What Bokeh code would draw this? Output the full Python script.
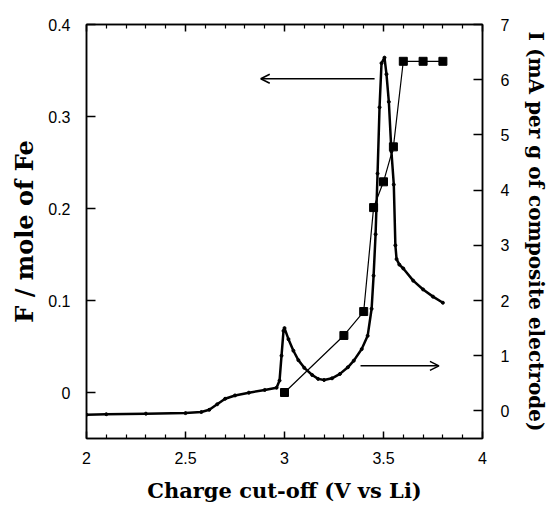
from bokeh.plotting import figure
from bokeh.models import Range1d, LinearAxis, FixedTicker, Arrow, OpenHead
from bokeh.embed import file_html
from bokeh.resources import INLINE

# F / mole of Fe (squares, left axis)
f_x = [3.0, 3.3, 3.4, 3.45, 3.5, 3.55, 3.6, 3.7, 3.8]
f_y = [0.0, 0.062, 0.088, 0.201, 0.229, 0.267, 0.36, 0.36, 0.36]

# current I (mA per g of composite electrode), right axis
i_x = [2.0, 2.1, 2.3, 2.5, 2.58, 2.62, 2.66, 2.70, 2.75, 2.82, 2.90, 2.96,
       2.975, 2.985, 2.995, 3.0, 3.02, 3.045, 3.07, 3.10, 3.14, 3.17, 3.20,
       3.24, 3.28, 3.32, 3.35, 3.39, 3.42, 3.44, 3.45, 3.46, 3.47, 3.48, 3.49,
       3.505, 3.515, 3.527, 3.54, 3.552, 3.56, 3.566, 3.58, 3.60, 3.65, 3.70,
       3.75, 3.80]
i_y = [-0.07, -0.06, -0.05, -0.04, -0.02, 0.02, 0.12, 0.22, 0.28, 0.33, 0.38, 0.42,
       0.55, 1.0, 1.45, 1.5, 1.3, 1.09, 0.92, 0.78, 0.65, 0.58, 0.56,
       0.59, 0.67, 0.79, 0.91, 1.12, 1.36, 1.85, 2.45, 3.2, 4.3, 5.5, 6.3,
       6.4, 6.1, 5.6, 4.7, 4.1, 3.0, 2.75, 2.65, 2.58, 2.36, 2.2,
       2.07, 1.96]

x_ticks = [2, 2.5, 3, 3.5, 4]
x_minor = [2.1, 2.2, 2.3, 2.4, 2.6, 2.7, 2.8, 2.9, 3.1, 3.2, 3.3, 3.4,
           3.6, 3.7, 3.8, 3.9]
f_ticks = [0, 0.1, 0.2, 0.3, 0.4]
i_ticks = [0, 1, 2, 3, 4, 5, 6, 7]

x_title = "Charge cut-off (V vs Li)"
f_title = "F / mole of Fe"
i_title = "I (mA per g of composite electrode)"

TICK_FONT = "Liberation Sans"
LABEL_FONT = "DejaVu Serif"

p = figure(frame_width=396, frame_height=414, output_backend="svg",
           toolbar_location=None, x_range=Range1d(2, 4),
           y_range=Range1d(-0.05, 0.4),
           min_border_left=86, min_border_right=68, min_border_top=24,
           min_border_bottom=68)
p.extra_y_ranges = {"I": Range1d(-0.5, 7.0)}
p.grid.visible = False
p.outline_line_color = "black"
p.outline_line_width = 1.5
p.background_fill_color = "white"
p.border_fill_color = "white"

def style(ax, in_len=7, minor_in=4):
    ax.major_tick_out = 0
    ax.major_tick_in = in_len
    ax.minor_tick_out = 0
    ax.minor_tick_in = minor_in
    ax.axis_line_color = "black"
    ax.axis_line_width = 1.5
    ax.major_tick_line_width = 1.5
    ax.minor_tick_line_width = 1.2
    ax.major_label_text_font = TICK_FONT
    ax.major_label_text_font_size = "16px"
    ax.major_label_text_color = "black"
    ax.axis_label_text_font = LABEL_FONT
    ax.axis_label_text_font_style = "bold"
    ax.axis_label_text_font_size = "20px"
    ax.axis_label_text_color = "black"

xa = p.xaxis[0]
xa.ticker = FixedTicker(ticks=x_ticks, minor_ticks=x_minor)
xa.axis_label = x_title
style(xa)
xa.axis_label_text_font_size = "21px"
xa.major_label_standoff = 13
xa.axis_label_standoff = 11

ya = p.yaxis[0]
ya.ticker = FixedTicker(ticks=f_ticks, minor_ticks=[])
ya.axis_label = f_title
style(ya, in_len=9)
ya.axis_label_text_font_size = "24px"
ya.major_label_standoff = 16
ya.axis_label_standoff = 6

ra = LinearAxis(y_range_name="I", ticker=FixedTicker(ticks=i_ticks, minor_ticks=[]),
                axis_label=i_title)
style(ra, in_len=9)
ra.major_label_standoff = 18
ra.axis_label_standoff = 12
p.add_layout(ra, "right")

ta = LinearAxis(ticker=FixedTicker(ticks=x_ticks, minor_ticks=x_minor))
style(ta)
ta.major_label_overrides = {t: "" for t in x_ticks}
ta.major_label_standoff = 0
p.add_layout(ta, "above")

# current curve
p.line(i_x, i_y, y_range_name="I", line_color="black", line_width=2.5)
p.scatter(i_x, i_y, y_range_name="I", marker="circle", size=3, color="black")

# F squares
p.line(f_x, f_y, line_color="black", line_width=1.2)
p.scatter(f_x, f_y, marker="square", size=8, color="black")

# arrows
p.add_layout(Arrow(end=OpenHead(size=9, line_color="black", line_width=1.5),
                   x_start=3.455, y_start=0.341, x_end=2.88, y_end=0.341,
                   line_color="black", line_width=1.5))
p.add_layout(Arrow(end=OpenHead(size=9, line_color="black", line_width=1.5),
                   x_start=3.384, y_start=0.029, x_end=3.78, y_end=0.029,
                   line_color="black", line_width=1.5))

open("out.html", "w").write(file_html(p, INLINE))
